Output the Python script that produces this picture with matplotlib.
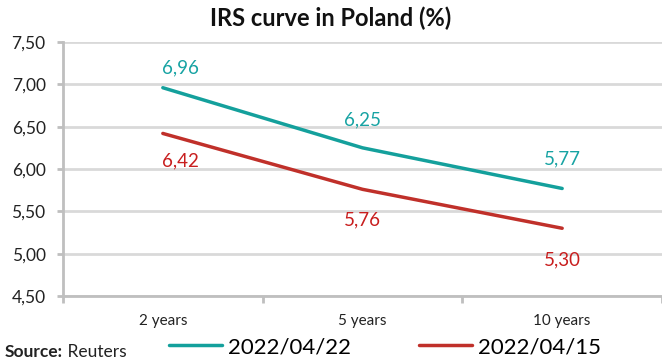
import matplotlib
matplotlib.use("Agg")
import matplotlib.pyplot as plt

plt.rcParams["font.family"] = ["Lato", "DejaVu Sans"]

categories = ["2 years", "5 years", "10 years"]
series_names = ["2022/04/22", "2022/04/15"]
values_0422 = [6.96, 6.25, 5.77]
values_0415 = [6.42, 5.76, 5.30]
y_ticks = [4.5, 5.0, 5.5, 6.0, 6.5, 7.0, 7.5]

TEAL = "#14A09C"
RED = "#C0302A"
TEAL_TXT = "#17A3A3"
RED_TXT = "#C81E1E"
GRID = "#D9D9D9"
SPINE = "#BFBFBF"


def fmt(v):
    return f"{v:.2f}".replace(".", ",")


fig = plt.figure(figsize=(6.62, 3.63), dpi=100)
ax = fig.add_axes([63 / 662, 1 - 296 / 363, 1 - 63 / 662, (296 - 42) / 363])

x = list(range(len(categories)))
l1, = ax.plot(x, values_0422, color=TEAL, lw=2.5, solid_capstyle="round",
              label=series_names[0], zorder=3)
l2, = ax.plot(x, values_0415, color=RED, lw=2.5, solid_capstyle="round",
              label=series_names[1], zorder=3)

# data labels (pixel offsets)
teal_offsets = [(18, 20), (0, 28), (0, 30)]
red_offsets = [(18, -27), (0, -31), (0, -32)]
for xi, v, off in zip(x, values_0422, teal_offsets):
    ax.annotate(fmt(v), (xi, v), xytext=off, textcoords="offset pixels",
                ha="center", va="center", color=TEAL_TXT, fontsize=13.5)
for xi, v, off in zip(x, values_0415, red_offsets):
    ax.annotate(fmt(v), (xi, v), xytext=off, textcoords="offset pixels",
                ha="center", va="center", color=RED_TXT, fontsize=13.5)

ax.set_xlim(-0.5, len(categories) - 0.5)
ax.set_ylim(y_ticks[0], y_ticks[-1])
ax.set_yticks(y_ticks)
ax.set_yticklabels([fmt(v) for v in y_ticks], fontsize=12.5, color="#222222")
ax.yaxis.grid(True, color=GRID, lw=2)
ax.set_axisbelow(True)

ax.set_xticks([i - 0.5 for i in range(len(categories) + 1)])
ax.set_xticklabels([])
ax.set_xticks(x, minor=True)
ax.set_xticklabels(categories, minor=True, fontsize=11, color="#222222")
ax.tick_params(axis="x", which="major", length=5, width=2, color=SPINE)
ax.tick_params(axis="x", which="minor", length=0, pad=13)
ax.tick_params(axis="y", length=4.5, width=2, color=SPINE, pad=8)

for side in ("top", "right"):
    ax.spines[side].set_visible(False)
for side in ("left", "bottom"):
    ax.spines[side].set_color(SPINE)
    ax.spines[side].set_linewidth(2)

fig.text(0.5, 1 - 18 / 363, "IRS curve in Poland (%)", ha="center", va="center",
         fontsize=17, fontweight="bold", color="#111111")

fig.legend(handles=[l1, l2], loc="center", bbox_to_anchor=(385 / 662, 1 - 347 / 363),
           ncol=2, frameon=False, fontsize=16, handlelength=2.35, handletextpad=0.27,
           columnspacing=3.1, borderaxespad=0, borderpad=0)

src = fig.text(5 / 662, 1 - 352 / 363, "Source:", ha="left", va="center",
               fontsize=12.5, fontweight="bold", color="#222222")
ax.annotate(" Reuters", xy=(1, 0), xycoords=src, va="bottom", ha="left",
            fontsize=12.5, color="#222222", annotation_clip=False)

fig.savefig("out.png", dpi=100)
